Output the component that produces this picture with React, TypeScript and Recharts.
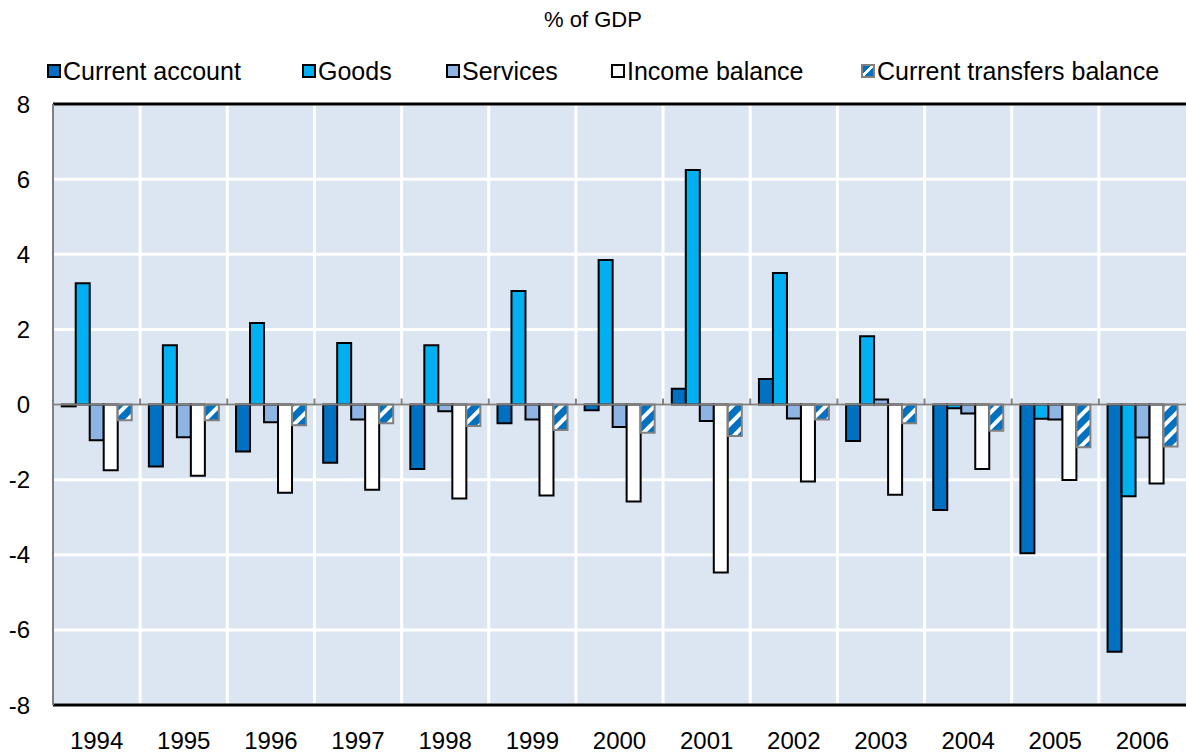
import React from 'react';
import {
  BarChart,
  Bar,
  XAxis,
  YAxis,
  CartesianGrid,
  ReferenceLine,
} from 'recharts';

const years = ['1994', '1995', '1996', '1997', '1998', '1999', '2000', '2001', '2002', '2003', '2004', '2005', '2006'];
const currentAccount = [-0.05, -1.65, -1.25, -1.55, -1.72, -0.5, -0.15, 0.42, 0.68, -0.97, -2.81, -3.96, -6.58];
const goods = [3.23, 1.58, 2.17, 1.64, 1.58, 3.02, 3.85, 6.24, 3.5, 1.82, -0.1, -0.38, -2.44];
const services = [-0.95, -0.87, -0.47, -0.4, -0.18, -0.4, -0.6, -0.44, -0.37, 0.13, -0.24, -0.4, -0.88];
const incomeBalance = [-1.75, -1.9, -2.35, -2.27, -2.5, -2.42, -2.58, -4.47, -2.05, -2.4, -1.72, -2.01, -2.1];
const transfersBalance = [-0.42, -0.42, -0.55, -0.5, -0.57, -0.68, -0.75, -0.84, -0.4, -0.5, -0.7, -1.14, -1.12];
const yTicks = [-8, -6, -4, -2, 0, 2, 4, 6, 8];

const data = years.map((year, i) => ({
  year,
  ca: currentAccount[i],
  goods: goods[i],
  services: services[i],
  income: incomeBalance[i],
  transfers: transfersBalance[i],
}));

const FONT = '"Liberation Sans", Arial, sans-serif';

const legendItems = [
  { label: 'Current account', fill: '#0070C0', stroke: '#000', left: 47 },
  { label: 'Goods', fill: '#00B0F0', stroke: '#000', left: 302 },
  { label: 'Services', fill: '#8EB4E3', stroke: '#000', left: 446 },
  { label: 'Income balance', fill: '#FFFFFF', stroke: '#000', left: 611 },
  { label: 'Current transfers balance', fill: 'hatch', stroke: '#808080', left: 861 },
];

const LegendSwatch = ({ fill, stroke }: { fill: string; stroke: string }) => (
  <svg width={14} height={14} style={{ marginRight: 2 }}>
    <defs>
      <linearGradient id="swatchHatch" x1="0" y1="0" x2="1" y2="1">
        <stop offset="40%" stopColor="#0070C0" />
        <stop offset="40%" stopColor="#FFFFFF" />
        <stop offset="58%" stopColor="#FFFFFF" />
        <stop offset="58%" stopColor="#0070C0" />
      </linearGradient>
    </defs>
    <rect x={1} y={1} width={12} height={12} fill={fill === 'hatch' ? 'url(#swatchHatch)' : fill} stroke={stroke} strokeWidth={2} />
  </svg>
);

// vertical grid lines sit on the boundaries between year groups
const boundaryGrid = ({ offset }: any) =>
  years.map((_, i) => offset.left + (i * offset.width) / years.length).slice(1);

// zero line with small upward ticks at each group boundary
const ZeroLine = (props: any) => {
  const { x1, x2, y1 } = props;
  const step = (x2 - x1) / years.length;
  return (
    <g>
      <line x1={x1} x2={x2} y1={y1} y2={y1} stroke="#808080" strokeWidth={2} />
      {years.slice(1).map((y, i) => (
        <line key={y} x1={x1 + (i + 1) * step} x2={x1 + (i + 1) * step} y1={y1} y2={y1 - 6} stroke="#808080" strokeWidth={2} />
      ))}
    </g>
  );
};

const App: React.FC = () => {
  return (
    <div style={{ position: 'absolute', left: 0, top: 0, width: 1186, height: 756, background: '#fff', fontFamily: FONT }}>
      <div style={{ position: 'absolute', top: 7, width: '100%', textAlign: 'center', fontSize: 22, color: '#000' }}>
        % of GDP
      </div>
      {legendItems.map(item => (
        <div
          key={item.label}
          style={{ position: 'absolute', left: item.left, top: 57, display: 'flex', alignItems: 'center', fontSize: 25, lineHeight: '28px', color: '#000', whiteSpace: 'nowrap' }}
        >
          <LegendSwatch fill={item.fill} stroke={item.stroke} />
          {item.label}
        </div>
      ))}
      <BarChart
        width={1186}
        height={756}
        data={data}
        margin={{ top: 104, right: 0, left: 0, bottom: 0 }}
        barCategoryGap="10%"
        barGap={0}
        style={{ position: 'absolute', left: 0, top: 0 }}
      >
        <defs>
          <pattern id="hatch" width="11" height="11" patternUnits="userSpaceOnUse" patternTransform="rotate(45)">
            <rect width="11" height="11" fill="#0070C0" />
            <rect x="0" y="0" width="4" height="11" fill="#FFFFFF" />
          </pattern>
        </defs>
        <CartesianGrid
          fill="#DCE6F2"
          stroke="#FFFFFF"
          strokeWidth={3}
          verticalCoordinatesGenerator={boundaryGrid}
        />
        <XAxis
          dataKey="year"
          height={51}
          axisLine={false}
          tickLine={false}
          tickSize={0}
          tick={{ fill: '#000', fontSize: 24, fontFamily: FONT }}
          tickMargin={27}
          interval={0}
        />
        <YAxis
          domain={[-8, 8]}
          ticks={yTicks}
          width={53}
          axisLine={{ stroke: '#808080', strokeWidth: 2 }}
          tickLine={false}
          tickSize={0}
          tickMargin={23}
          tick={{ fill: '#000', fontSize: 24, fontFamily: FONT }}
          interval={0}
        />
        <ReferenceLine y={8} stroke="#000" strokeWidth={3} />
        <ReferenceLine y={-8} stroke="#000" strokeWidth={3} />
        <Bar dataKey="ca" fill="#0070C0" stroke="#000" strokeWidth={2} isAnimationActive={false} />
        <Bar dataKey="goods" fill="#00B0F0" stroke="#000" strokeWidth={2} isAnimationActive={false} />
        <Bar dataKey="services" fill="#8EB4E3" stroke="#000" strokeWidth={2} isAnimationActive={false} />
        <Bar dataKey="income" fill="#FFFFFF" stroke="#000" strokeWidth={2} isAnimationActive={false} />
        <Bar dataKey="transfers" fill="url(#hatch)" stroke="#808080" strokeWidth={2} isAnimationActive={false} />
        <ReferenceLine y={0} shape={<ZeroLine />} />
      </BarChart>
    </div>
  );
};

export default App;
